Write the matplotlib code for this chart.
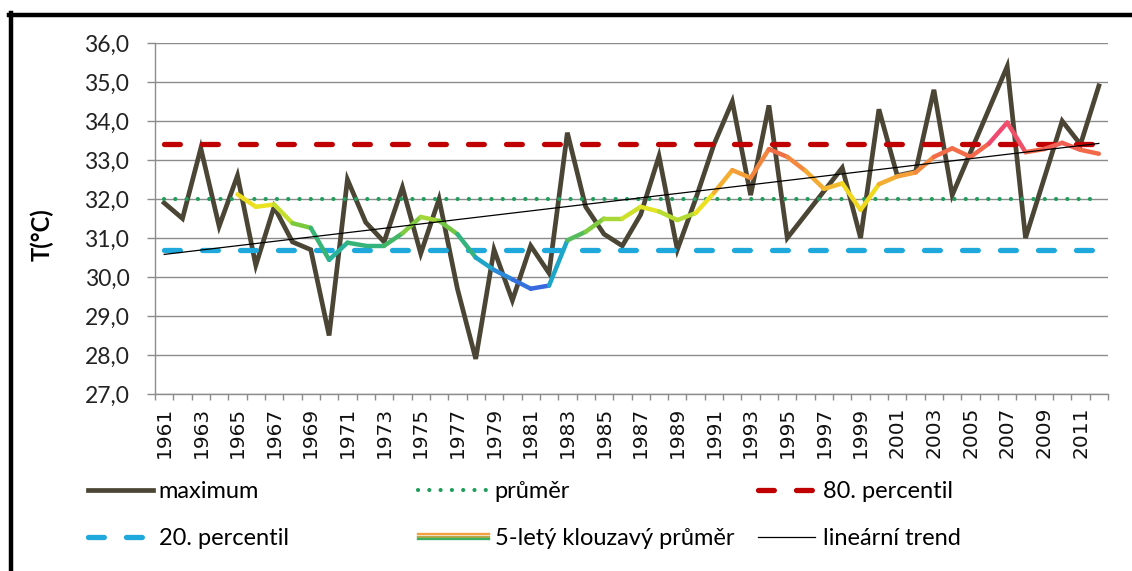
import numpy as np
import pandas as pd
import matplotlib
matplotlib.use("Agg")
import matplotlib.pyplot as plt
from matplotlib.collections import LineCollection
from matplotlib.colors import LinearSegmentedColormap, Normalize
from matplotlib.lines import Line2D
from matplotlib.legend_handler import HandlerBase

# ---------------- data ----------------
years = list(range(1961, 2013))
maximum = [31.9, 31.5, 33.3, 31.3, 32.6, 30.3, 31.8, 30.9, 30.7, 28.5,
           32.5, 31.4, 30.9, 32.3, 30.6, 32.0, 29.7, 27.9, 30.7, 29.4,
           30.8, 30.1, 33.7, 31.8, 31.1, 30.8, 31.6, 33.1, 30.7, 32.0,
           33.4, 34.5, 32.1, 34.4, 31.0, 31.6, 32.2, 32.8, 31.0, 34.3,
           32.6, 32.7, 34.8, 32.1, 33.2, 34.3, 35.4, 31.0, 32.5, 34.0,
           33.4, 34.9]
prumer = 32.0
perc80 = 33.4
perc20 = 30.7
ma_window = 5
yticks = [27, 28, 29, 30, 31, 32, 33, 34, 35, 36]
labels = ["maximum", "průměr", "80. percentil",
          "20. percentil", "5-letý klouzavý průměr", "lineární trend"]

# ---------------- styles ----------------
W, H = 1132, 571
C_MAX = "#4b4535"
C_AVG = "#1e9e5a"
C_P80 = "#c00000"
C_P20 = "#1fa8dc"
GRID = "#8c8c8c"
LAT = "Lato"

fig = plt.figure(figsize=(W / 100, H / 100), dpi=100)
ax = fig.add_axes([155 / W, 1 - 394 / H, (1108 - 155) / W, (394 - 43) / H])

x = np.array(years, dtype=float)
y = np.array(maximum)

ax.set_xlim(years[0] - 0.5, years[-1] + 0.5)
ax.set_ylim(yticks[0], yticks[-1])

# grid / spines
ax.set_yticks(yticks)
ax.set_yticklabels([f"{v:.1f}".replace(".", ",") for v in yticks],
                   fontfamily=LAT, fontsize=16.5)
ax.yaxis.grid(True, color=GRID, lw=1.0)
ax.set_axisbelow(True)
for s in ["top", "right"]:
    ax.spines[s].set_visible(False)
for s in ["left", "bottom"]:
    ax.spines[s].set_color(GRID)
    ax.spines[s].set_linewidth(1.0)
ax.tick_params(axis="y", direction="out", length=5.5, width=1.0, color=GRID,
               pad=13, labelcolor="#222222")

# x: ticks at category boundaries, labels every other year
ax.set_xticks(np.arange(years[0] - 0.5, years[-1] + 1.0, 1.0))
ax.set_xticklabels([])
ax.tick_params(axis="x", which="major", direction="out", length=4.5,
               width=1.0, color=GRID)
ax.set_xticks(years[::2], minor=True)
ax.set_xticklabels([str(v) for v in years[::2]], minor=True, rotation=90,
                   fontfamily="DejaVu Sans", fontsize=14.5, color="#111111")
ax.tick_params(axis="x", which="minor", length=0, pad=9)

fig.text(42 / W, 1 - 235 / H, "T(°C)", rotation=90, ha="center", va="center",
         fontfamily=LAT, fontweight="bold", fontsize=17)

# ---------------- series ----------------
lw_max = 3.4
ln_max, = ax.plot(x, y, color=C_MAX, lw=lw_max, solid_joinstyle="miter",
                  zorder=3)
ln_avg, = ax.plot([x[0], x[-1]], [prumer, prumer], color=C_AVG, lw=3.0,
                  linestyle=(0, (0.01, 2.7)), dash_capstyle="round", zorder=3)
ln_p80, = ax.plot([x[0], x[-1]], [perc80, perc80], color=C_P80, lw=3.8,
                  linestyle=(0, (3.0, 4.2)), dash_capstyle="round", zorder=3)
ln_p20, = ax.plot([x[0], x[-1]], [perc20, perc20], color=C_P20, lw=3.8,
                  linestyle=(0, (3.0, 4.2)), dash_capstyle="round", zorder=3)

# 5-year trailing moving average, coloured by value
ma = pd.Series(maximum).rolling(ma_window).mean().to_numpy()
valid = ~np.isnan(ma)
mx, my = x[valid], ma[valid]
stops = [(29.7, "#3a66e0"), (30.1, "#2a8ed8"), (30.45, "#18b0c0"),
         (30.9, "#3cb46c"), (31.3, "#78c840"), (31.5, "#a8d838"),
         (31.75, "#e6e622"), (32.1, "#f2d820"), (32.35, "#f4b830"),
         (32.7, "#f49a38"), (33.2, "#f26c48"), (33.5, "#f05462"),
         (33.95, "#f03c80")]
vmin, vmax = stops[0][0], stops[-1][0]
cmap = LinearSegmentedColormap.from_list(
    "ma", [((v - vmin) / (vmax - vmin), c) for v, c in stops])
norm = Normalize(vmin, vmax)
segs = [[(mx[i], my[i]), (mx[i + 1], my[i + 1])] for i in range(len(mx) - 1)]
cols = [cmap(norm((my[i] + my[i + 1]) / 2)) for i in range(len(mx) - 1)]
lc = LineCollection(segs, colors=cols, linewidths=3.2, capstyle="round",
                    joinstyle="round", zorder=4)
ax.add_collection(lc)

# linear trend
k, q = np.polyfit(x, y, 1)
ln_tr, = ax.plot([x[0], x[-1]], [k * x[0] + q, k * x[-1] + q], color="black",
                 lw=0.9, zorder=5)

# ---------------- legend ----------------
class HandlerMA(HandlerBase):
    def create_artists(self, legend, orig_handle, xdescent, ydescent,
                       width, height, fontsize, trans):
        y0 = height / 2 - ydescent
        out = []
        for off, c in zip([2.0, 0.0, -2.0], ["#f2a040", "#b8a848", "#3cb060"]):
            out.append(Line2D([-xdescent, width - xdescent], [y0 + off, y0 + off],
                              color=c, lw=1.7, transform=trans))
        return out

ma_handle = Line2D([], [], color="#f2a040")
leg_font = {"family": LAT, "size": 17}
cols_spec = [
    (88, [ln_max, ln_p20], [labels[0], labels[3]], 2.75, 0.25),
    (418, [ln_avg, ma_handle], [labels[1], labels[4]], 3.0, 0.25),
    (758, [ln_p80, ln_tr], [labels[2], labels[5]], 2.4, 0.35),
]
for xpx, hs, ls, hl, tp in cols_spec:
    fig.legend(hs, ls, loc="upper left",
               bbox_to_anchor=(xpx / W, 1 - 481 / H),
               bbox_transform=fig.transFigure, frameon=False, borderpad=0,
               borderaxespad=0, handlelength=hl, handletextpad=tp,
               labelspacing=1.1, prop=leg_font,
               handler_map={ma_handle: HandlerMA()})

# outer frame (top and left edges visible)
fig.add_artist(Line2D([9 / W, 1], [1 - 15 / H, 1 - 15 / H],
                      transform=fig.transFigure, color="black", lw=3.2))
fig.add_artist(Line2D([11 / W, 11 / W], [0, 1 - 13 / H],
                      transform=fig.transFigure, color="black", lw=3.2))

fig.savefig("out.png", dpi=100)
